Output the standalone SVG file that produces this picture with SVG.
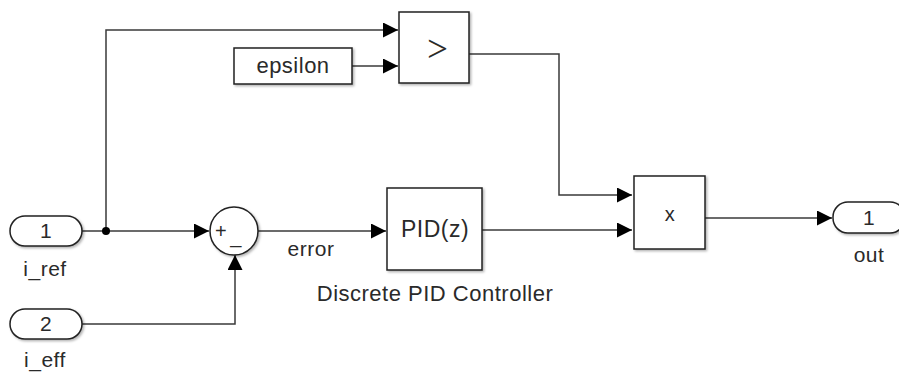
<svg xmlns="http://www.w3.org/2000/svg" width="899" height="374" viewBox="0 0 899 374">
<style>
.blk{fill:#fff;stroke:#222;stroke-width:1.5}
.ln{fill:none;stroke:#3a3a3a;stroke-width:1.5}
.t{font-family:"Liberation Sans",Arial,sans-serif;font-size:21px;fill:#2a2a2a;text-anchor:middle;letter-spacing:0.5px}
</style>
<defs>
<marker id="ar" viewBox="0 0 10 10" refX="10" refY="5" markerWidth="15" markerHeight="15" markerUnits="userSpaceOnUse" orient="auto">
<path d="M0,0 L10,5 L0,10 Z" fill="#000"/>
</marker>
<filter id="ds" x="-10%" y="-10%" width="130%" height="130%">
<feDropShadow dx="1.5" dy="1.5" stdDeviation="1.2" flood-color="#000" flood-opacity="0.3"/>
</filter>
</defs>
<g id="connectors">
<path class="ln" d="M82,231 H209" marker-end="url(#ar)"/>
<path class="ln" d="M106,231 V30 H398" marker-end="url(#ar)"/>
<path class="ln" d="M352,66 H398" marker-end="url(#ar)"/>
<path class="ln" d="M82,324 H235 V255" marker-end="url(#ar)"/>
<path class="ln" d="M258,231 H386" marker-end="url(#ar)"/>
<path class="ln" d="M469,54 H559 V195 H632" marker-end="url(#ar)"/>
<path class="ln" d="M482,230 H632" marker-end="url(#ar)"/>
<path class="ln" d="M705,218 H832" marker-end="url(#ar)"/>
<circle cx="106" cy="231" r="4" fill="#000"/>
<text class="t" x="311" y="256">error</text>
</g>
<g id="in1">
<rect class="blk" x="10" y="216" width="72" height="30" rx="15" filter="url(#ds)"/>
<text class="t" x="46" y="238">1</text>
<text class="t" x="45" y="276">i_ref</text>
</g>
<g id="in2">
<rect class="blk" x="10" y="309" width="72" height="30" rx="15" filter="url(#ds)"/>
<text class="t" x="46" y="331">2</text>
<text class="t" x="45" y="367">i_eff</text>
</g>
<g id="sum">
<circle class="blk" cx="234" cy="231" r="24" filter="url(#ds)"/>
<text class="t" x="221" y="238" style="font-size:20px">+</text>
<text class="t" x="236" y="243" style="font-size:20px">_</text>
</g>
<g id="epsilon">
<rect class="blk" x="234" y="48" width="118" height="36" filter="url(#ds)"/>
<text class="t" x="293" y="73" style="font-size:22px">epsilon</text>
</g>
<g id="compare">
<rect class="blk" x="399" y="12" width="70" height="71" filter="url(#ds)"/>
<text class="t" x="437" y="64" style="font-family:Lato,'Liberation Sans',sans-serif;font-weight:300;font-size:46px">&gt;</text>
</g>
<g id="pid">
<rect class="blk" x="387" y="188" width="95" height="82" filter="url(#ds)"/>
<text class="t" x="435" y="237" style="font-size:23px">PID(z)</text>
<text class="t" x="435" y="301" style="font-size:22px">Discrete PID Controller</text>
</g>
<g id="product">
<rect class="blk" x="634" y="176" width="71" height="73" filter="url(#ds)"/>
<text class="t" x="670" y="221" style="font-size:20px">x</text>
</g>
<g id="out1">
<rect class="blk" x="833" y="202" width="72" height="31" rx="15" filter="url(#ds)"/>
<text class="t" x="869" y="225">1</text>
<text class="t" x="869" y="262">out</text>
</g>
</svg>
